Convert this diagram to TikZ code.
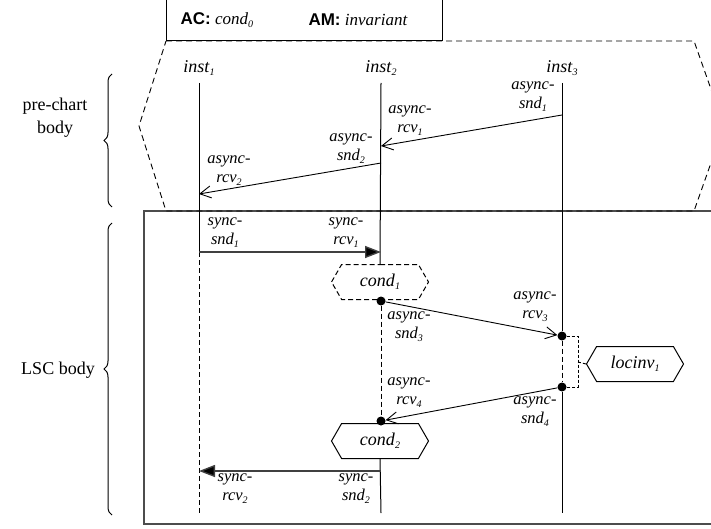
\documentclass[tikz,border=0pt]{standalone}
\usepackage{fontspec}
\setmainfont{Liberation Serif}
\newfontfamily\hvsans{Liberation Sans}
\usetikzlibrary{arrows.meta,shapes.symbols,decorations.pathreplacing}
\newcommand\ix[2]{\textit{#1}\raisebox{-0.4ex}{\fontsize{10}{10}\selectfont\textit{#2}}}
\begin{document}
\begin{tikzpicture}[x=1pt,y=-1pt,
  lbl/.style={font=\fontsize{16.5}{19}\selectfont, align=center, inner sep=0pt},
  instlbl/.style={font=\fontsize{18}{20}\selectfont, inner sep=0pt},
  lifeline/.style={line width=1pt},
  lifedash/.style={line width=1pt, dash pattern=on 5pt off 3pt},
  amsg/.style={line width=0.9pt, -{Straight Barb[length=11pt,width=12pt,line width=0.9pt]}},
  smsg/.style={line width=1.4pt, draw=black!75, -{Triangle[length=16pt,width=12pt,fill=black]}},
  hexa/.style={shape=signal, signal to=west and east, signal pointer angle=120,
     minimum width=97pt, minimum height=35pt, inner sep=0pt, line width=1pt,
     font=\fontsize{18}{20}\selectfont},
  dot/.style={circle, fill=black, inner sep=0pt, minimum size=9pt},
  sidebrace/.style={decorate, decoration={brace, amplitude=8pt}, line width=1pt}
]
\clip (0,0) rectangle (711,529);
% prechart hexagon and LSC box
\draw[black!70, line width=1.4pt] (144,211) rectangle (730,524);
\draw[line width=0.9pt, dash pattern=on 6pt off 4pt]
  (166,41) -- (694,41) -- (724,126) -- (694,211) -- (166,211) -- (139,126) -- cycle;
% top box
\draw[line width=1pt] (166,-2) rectangle (442,41);
\node[anchor=west, font=\fontsize{17}{18}\selectfont] (ac) at (177,20)
  {{\hvsans\bfseries AC:} \ix{cond}{0}};
\node[anchor=west, font=\fontsize{17}{18}\selectfont] (am) at (305,20)
  {{\hvsans\bfseries AM:} \textit{invariant}};
% left braces
\draw[sidebrace] (112,207) -- (112,74);
\draw[sidebrace] (112,515) -- (112,223);
\node[align=center, font=\fontsize{18}{23}\selectfont] (pc) at (55,118) {pre-chart\\body};
\node[font=\fontsize{18}{19}\selectfont] (lb) at (58,370) {LSC body};
% instance heads
\node[instlbl] (inst1) at (199,68) {\ix{inst}{1}};
\node[instlbl] (inst2) at (381,68) {\ix{inst}{2}};
\node[instlbl] (inst3) at (562,68) {\ix{inst}{3}};
\coordinate (t1) at (199,83);
\coordinate (t2) at (381,83);
\coordinate (t3) at (562,83);
\coordinate (b1) at (199,513);
\coordinate (b2) at (381,513);
\coordinate (b3) at (562,513);
% events
\coordinate (e1s) at (562,115);
\coordinate (e1r) at (381,146);
\coordinate (e2s) at (381,163);
\coordinate (e2r) at (199,194);
\coordinate (s1s) at (199,252);
\coordinate (s1r) at (381,252);
\node[hexa, draw, dash pattern=on 5pt off 3pt] (cond1) at (380,282) {\ix{cond}{1}};
\node[hexa, draw] (cond2) at (380,441) {\ix{cond}{2}};
\node[hexa, draw] (loc) at (635,364) {\ix{locinv}{1}};
\node[dot] (d1) at (381,301) {};
\node[dot] (d2) at (562,336) {};
\node[dot] (d3) at (562,387) {};
\node[dot] (d4) at (381,421) {};
\coordinate (s2s) at (381,471);
\coordinate (s2r) at (199,471);
\coordinate (brx) at (578,362);
% lifelines
\draw[lifeline] (t1) -- (s1s);
\draw[lifedash] (s1s) -- (b1);
\draw[lifeline] (t2) -- (cond1.north);
\draw[lifedash] (d1) -- (d4);
\draw[lifeline] (cond2.south) -- (b2);
\draw[lifeline] (t3) -- (d2);
\draw[lifedash] (d2) -- (d3);
\draw[lifeline] (d3) -- (b3);
% local invariant bracket
\draw[line width=0.9pt, dash pattern=on 3pt off 2pt] (d2) -- (d2 -| brx) -- (d3 -| brx) -- (d3);
\draw[line width=0.9pt, dash pattern=on 3pt off 2pt] (brx) -- (loc.west);
% messages
\draw[amsg] (e1s) -- (e1r);
\draw[amsg] (e2s) -- (e2r);
\draw[smsg] (s1s) -- (s1r);
\draw[amsg] (d1) -- (d2);
\draw[amsg] (d3) -- (d4);
\draw[smsg] (s2s) -- (s2r);
% message labels
\node[lbl] (l1) at (533,97) {\textit{async-}\\\ix{snd}{1}};
\node[lbl] (l2) at (410,121) {\textit{async-}\\\ix{rcv}{1}};
\node[lbl] (l3) at (351,149) {\textit{async-}\\\ix{snd}{2}};
\node[lbl] (l4) at (229,171) {\textit{async-}\\\ix{rcv}{2}};
\node[lbl] (l5) at (225,233) {\textit{sync-}\\\ix{snd}{1}};
\node[lbl] (l6) at (346,233) {\textit{sync-}\\\ix{rcv}{1}};
\node[lbl] (l7) at (409,327) {\textit{async-}\\\ix{snd}{3}};
\node[lbl] (l8) at (535,307) {\textit{async-}\\\ix{rcv}{3}};
\node[lbl] (l9) at (409,393) {\textit{async-}\\\ix{rcv}{4}};
\node[lbl] (l10) at (535,412) {\textit{async-}\\\ix{snd}{4}};
\node[lbl] (l11) at (235,489) {\textit{sync-}\\\ix{rcv}{2}};
\node[lbl] (l12) at (356,489) {\textit{sync-}\\\ix{snd}{2}};
\end{tikzpicture}
\end{document}
